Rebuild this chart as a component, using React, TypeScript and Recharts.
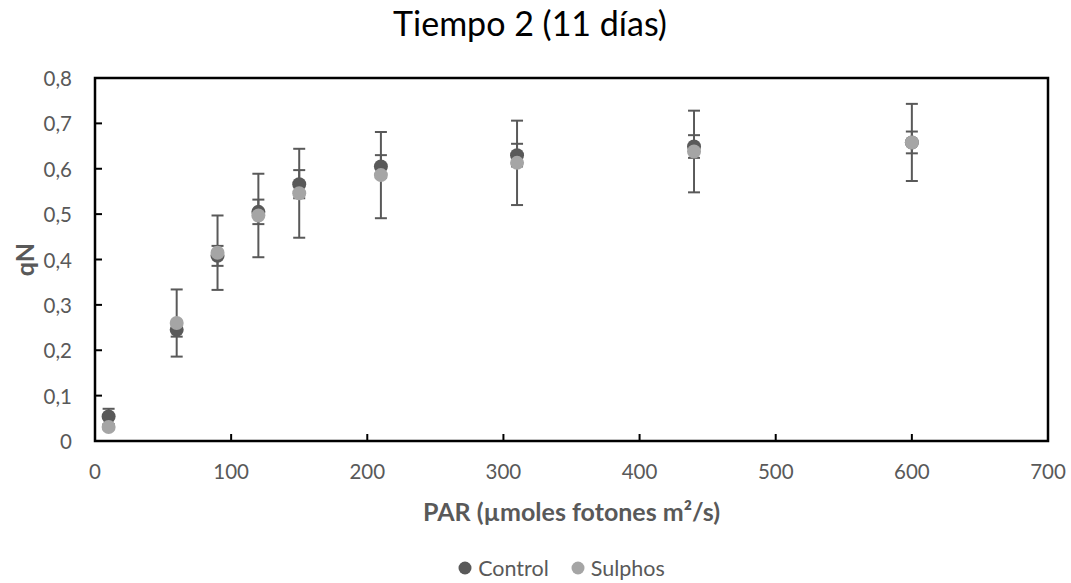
import {
  ScatterChart,
  Scatter,
  XAxis,
  YAxis,
  ErrorBar,
  Legend,
  ReferenceArea,
} from 'recharts';

const PAR = [10, 60, 90, 120, 150, 210, 310, 440, 600];
const CONTROL_QN = [0.054, 0.245, 0.408, 0.505, 0.566, 0.605, 0.63, 0.649, 0.658];
const CONTROL_ERR = [0.017, 0.015, 0.022, 0.027, 0.031, 0.025, 0.025, 0.025, 0.024];
const SULPHOS_QN = [0.031, 0.26, 0.415, 0.497, 0.546, 0.586, 0.613, 0.638, 0.658];
const SULPHOS_ERR = [0.005, 0.074, 0.082, 0.092, 0.098, 0.095, 0.093, 0.09, 0.085];

const X_TICKS = [0, 100, 200, 300, 400, 500, 600, 700];
const Y_TICKS = [0, 0.1, 0.2, 0.3, 0.4, 0.5, 0.6, 0.7, 0.8];

const SERIES = [
  { name: 'Control', color: '#595959', values: CONTROL_QN, errors: CONTROL_ERR },
  { name: 'Sulphos', color: '#a5a5a5', values: SULPHOS_QN, errors: SULPHOS_ERR },
];

const FONT = 'Lato, "Open Sans", sans-serif';
const TEXT = '#595959';

const fmtY = (v: number) => (v === 0 ? '0' : v.toFixed(1).replace('.', ','));

function XTick(props: any) {
  const { x, y, payload } = props;
  return (
    <g>
      <line x1={x} x2={x} y1={y} y2={y - 7} stroke="#000" strokeWidth={2} />
      <text x={x} y={y + 38} textAnchor="middle" fill={TEXT} fontSize={20.5} fontFamily={FONT}>
        {payload.value}
      </text>
    </g>
  );
}

function YTick(props: any) {
  const { x, y, payload } = props;
  return (
    <g>
      <line x1={x} x2={x + 7} y1={y} y2={y} stroke="#000" strokeWidth={2} />
      <text
        x={x - 23}
        y={y}
        textAnchor="end"
        dominantBaseline="central"
        fill={TEXT}
        fontSize={20.5}
        fontFamily={FONT}
      >
        {fmtY(payload.value)}
      </text>
    </g>
  );
}

function Dot(color: string) {
  return (p: any) => <circle cx={p.cx} cy={p.cy} r={7} fill={color} />;
}

function LegendContent() {
  return (
    <div
      style={{
        display: 'flex',
        justifyContent: 'center',
        alignItems: 'center',
        gap: 22,
        paddingLeft: 52,
        fontFamily: FONT,
        fontSize: 21.5,
        color: TEXT,
      }}
    >
      {SERIES.map((s) => (
        <span key={s.name} style={{ display: 'flex', alignItems: 'center', gap: 6 }}>
          <svg width={14} height={14}>
            <circle cx={7} cy={7} r={6.5} fill={s.color} />
          </svg>
          {s.name}
        </span>
      ))}
    </div>
  );
}

export default function App() {
  const data = SERIES.map((s) =>
    PAR.map((x, i) => ({ par: x, qn: s.values[i], err: s.errors[i] })),
  );

  return (
    <div style={{ position: 'absolute', left: 0, top: 0, width: 1071, height: 583, background: '#fff' }}>
      <div
        style={{
          position: 'absolute',
          top: 2,
          left: 0,
          width: 1060,
          textAlign: 'center',
          fontFamily: FONT,
          fontSize: 34,
          color: '#000',
        }}
      >
        Tiempo 2 (11 días)
      </div>
      <ScatterChart width={1071} height={583} margin={{ top: 78, right: 23, bottom: 0, left: 0 }}>
        <XAxis
          type="number"
          dataKey="par"
          domain={[0, 700]}
          ticks={X_TICKS}
          interval={0}
          height={142}
          tickSize={0}
          tickMargin={0}
          axisLine={false}
          tickLine={false}
          tick={<XTick />}
          label={{
            value: 'PAR (µmoles fotones m²/s)',
            position: 'insideTop',
            offset: 62,
            fill: TEXT,
            fontSize: 25,
            fontWeight: 700,
            fontFamily: FONT,
          }}
        />
        <YAxis
          type="number"
          dataKey="qn"
          domain={[0, 0.8]}
          ticks={Y_TICKS}
          interval={0}
          width={95}
          tickSize={0}
          tickMargin={0}
          axisLine={false}
          tickLine={false}
          tick={<YTick />}
          label={{
            content: ({ viewBox }: any) => (
              <text
                x={viewBox.x + 24}
                y={viewBox.y + viewBox.height / 2}
                transform={`rotate(-90, ${viewBox.x + 24}, ${viewBox.y + viewBox.height / 2})`}
                textAnchor="middle"
                dominantBaseline="central"
                fill={TEXT}
                fontSize={25}
                fontWeight={700}
                fontFamily={FONT}
              >
                qN
              </text>
            ),
          }}
        />
        <ReferenceArea x1={0} x2={700} y1={0} y2={0.8} fill="none" stroke="#000" strokeWidth={2.5} />
        {SERIES.map((s, i) => (
          <Scatter
            key={s.name}
            name={s.name}
            data={data[i]}
            fill={s.color}
            shape={Dot(s.color)}
            isAnimationActive={false}
          >
            <ErrorBar dataKey="err" direction="y" width={6} stroke="#595959" strokeWidth={2} />
          </Scatter>
        ))}
        <Legend
          layout="horizontal"
          verticalAlign="middle"
          align="center"
          content={<LegendContent />}
          wrapperStyle={{ top: 555, left: 0, width: 1071 }}
        />
      </ScatterChart>
    </div>
  );
}
